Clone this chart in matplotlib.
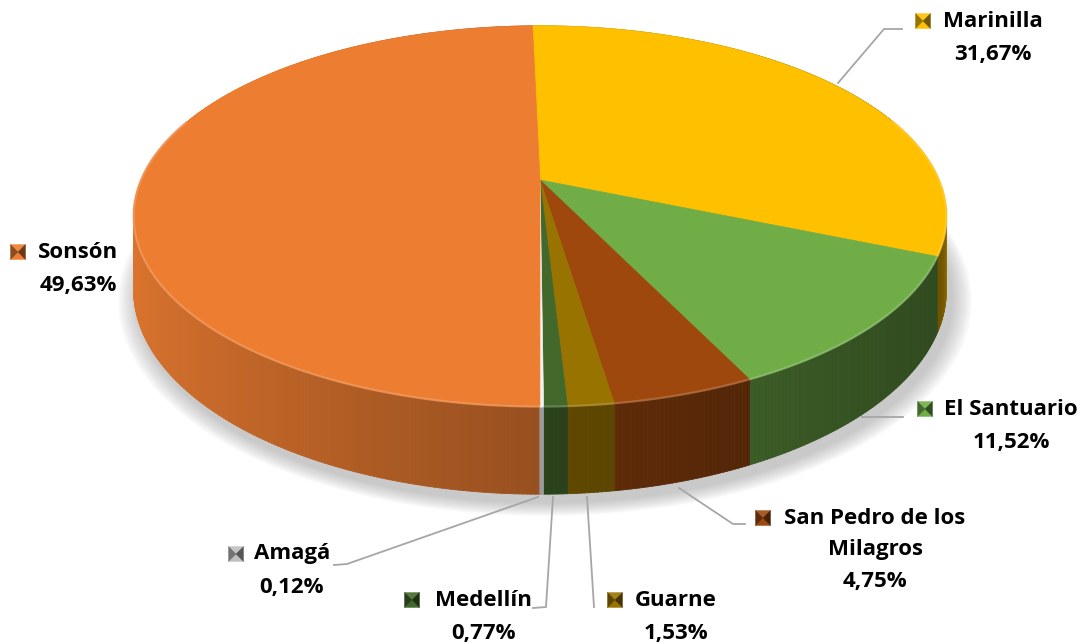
import numpy as np
import matplotlib.pyplot as plt
import matplotlib.colors as mcolors
from matplotlib.patches import Polygon
from matplotlib.collections import PolyCollection

# Participación por municipio (orden horario desde arriba)
municipios = ["Marinilla", "El Santuario", "San Pedro de los\nMilagros",
              "Guarne", "Medellín", "Amagá", "Sonsón"]
porcentajes = [31.67, 11.52, 4.75, 1.53, 0.77, 0.12, 49.63]
colores = ["#FFC000", "#70AD47", "#9E480E", "#997300", "#43682B",
           "#F2F2F2", "#ED7D31"]

# Geometria del pastel 3D (en pixeles de la figura)
cx, cy = 540, 180
rx, ry = 399, 183.5
persp = 0.19
depth = 71
start = -1.3


def proj(phi, bottom=False):
    # phi en grados, sentido horario desde el fondo del disco
    t = np.radians(phi)
    X, Y = np.sin(t), np.cos(t)
    s = 1 / (1 + persp * Y)
    x = cx + rx * X * s
    y = cy - ry * Y * s
    if bottom:
        y = y + depth * s
    return x, y


def shade(color, f):
    r, g, b = mcolors.to_rgb(color)
    return (min(r * f, 1), min(g * f, 1), min(b * f, 1))


def lighten(color, f):
    r, g, b = mcolors.to_rgb(color)
    return (r + (1 - r) * f, g + (1 - g) * f, b + (1 - b) * f)


fig = plt.figure(figsize=(10.89, 6.44), dpi=100)
ax = fig.add_axes([0, 0, 1, 1])
ax.set_xlim(0, 1089)
ax.set_ylim(644, 0)
ax.axis('off')

# Angulos de cada porcion
angs = start + 360 * np.concatenate([[0], np.cumsum(porcentajes)]) / sum(porcentajes)

# Sombra suave bajo el pastel
phis = np.linspace(0, 360, 361)
bx, by = proj(phis, bottom=True)
for i in range(12):
    grow = 1 + 0.05 * (1 - i / 12)
    px = cx + (bx - cx) * grow + 5
    py = cy + 40 + (by - cy - 40) * grow + 8
    ax.add_patch(Polygon(np.column_stack([px, py]), closed=True,
                         facecolor='#7F7F7F', edgecolor='none', alpha=0.04,
                         zorder=1))

# Caras laterales
strips = []
for a0, a1, col in zip(angs[:-1], angs[1:], colores):
    n = max(2, int((a1 - a0) / 0.5) + 1)
    ph = np.linspace(a0, a1, n)
    for p0, p1 in zip(ph[:-1], ph[1:]):
        pm = (p0 + p1) / 2
        x0, y0 = proj(p0)
        x1, y1 = proj(p1)
        x0b, y0b = proj(p0, True)
        x1b, y1b = proj(p1, True)
        f = 0.42 + 0.53 * (1 + np.cos(np.radians(pm - 280))) / 2
        f += 0.4 * np.exp(-((pm - 95) / 9) ** 2)
        strips.append((np.cos(np.radians(pm)),
                       [(x0, y0), (x1, y1), (x1b, y1b), (x0b, y0b)],
                       shade(col, f)))
strips.sort(key=lambda s: -s[0])
pc = PolyCollection([s[1] for s in strips], facecolors=[s[2] for s in strips],
                    edgecolors=[s[2] for s in strips], linewidths=0.6, zorder=2)
ax.add_collection(pc)

# Cara superior
for a0, a1, col in zip(angs[:-1], angs[1:], colores):
    ph = np.linspace(a0, a1, max(2, int((a1 - a0) / 0.5) + 1))
    tx, ty = proj(ph)
    pts = np.column_stack([np.r_[cx, tx], np.r_[cy, ty]])
    ax.add_patch(Polygon(pts, closed=True, facecolor=col, edgecolor=col,
                         linewidth=0.5, zorder=3))
    # brillo del bisel en el borde
    vis = ph[(ph > 70) & (ph < 290)]
    if len(vis) > 1:
        hx, hy = proj(vis)
        ax.plot(hx, hy, color=lighten(col, 0.25), lw=1.6, alpha=0.7,
                solid_capstyle='butt', zorder=4)

# Lineas guia
guias = [
    [(838, 83), (884, 29), (902, 29)],
    [(862, 417), (903, 417)],
    [(679, 488), (733, 524), (745, 524)],
    [(587, 497), (594, 607)],
    [(553, 497), (546, 607), (533, 608)],
    [(538, 497), (347, 564), (334, 565)],
]
for g in guias:
    gx, gy = zip(*g)
    ax.plot(gx, gy, color='#A6A6A6', lw=1.3, zorder=5)

# Posicion de etiquetas: (centro texto x, y primera linea, x clave)
etiquetas = [
    (993, 21, 923),
    (1011, 409, 925),
    (875, 518, 763),
    (676, 600, 615),
    (483, 600, 412),
    (292, 554, 236),
    (78, 252, 18),
]


def clave(x, y, col, size=15):
    h = size / 2
    tl, tr, bl, br, c = (x - h, y - h), (x + h, y - h), (x - h, y + h), (x + h, y + h), (x, y)
    partes = [([tl, tr, c], lighten(col, 0.1)),
              ([bl, br, c], col),
              ([tl, bl, c], shade(col, 0.6)),
              ([tr, br, c], shade(col, 0.45))]
    for tri, fc in partes:
        ax.add_patch(Polygon(tri, closed=True, facecolor=fc, edgecolor=fc,
                             lw=0.3, zorder=6))


fuente = dict(family='Open Sans', fontsize=16, fontweight='bold', color='black',
              ha='center', va='center', zorder=7)
for nombre, val, col, (tx, ty, kx) in zip(municipios, porcentajes, colores, etiquetas):
    lineas = nombre.split('\n') + [f"{val:.2f}".replace('.', ',') + '%']
    paso = 33 if len(lineas) == 2 else 32
    for i, ln in enumerate(lineas):
        ax.text(tx, ty + i * paso, ln, **fuente)
    kc = '#BFBFBF' if col == '#F2F2F2' else col
    clave(kx, ty, kc)

fig.savefig('out.png', dpi=100, facecolor='white')
